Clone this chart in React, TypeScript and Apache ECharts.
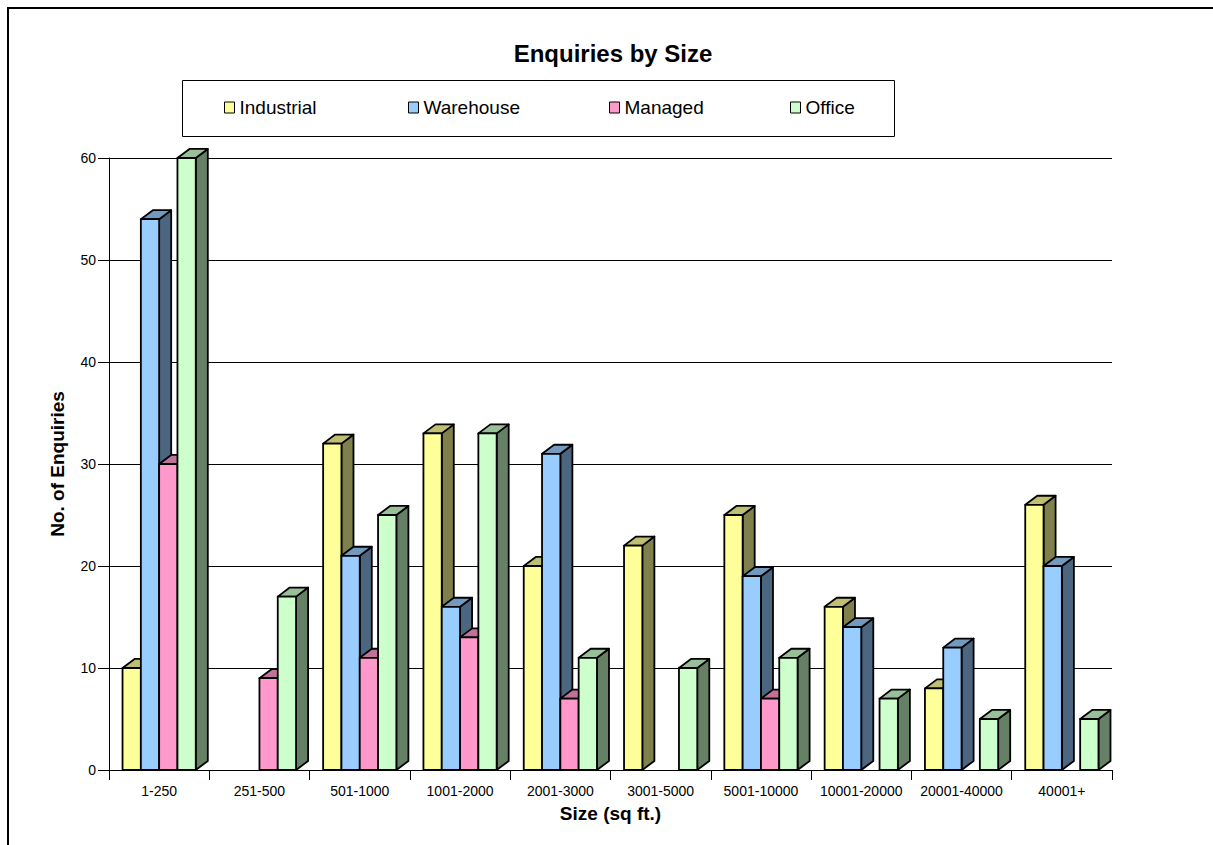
import React, { useEffect, useRef } from "react";
import * as echarts from "echarts";

// Size bands (sq ft.)
const categories = [
  "1-250",
  "251-500",
  "501-1000",
  "1001-2000",
  "2001-3000",
  "3001-5000",
  "5001-10000",
  "10001-20000",
  "20001-40000",
  "40001+",
];

// Enquiry counts per size band
const industrial = [10, 0, 32, 33, 20, 22, 25, 16, 8, 26];
const warehouse = [54, 0, 21, 16, 31, 0, 19, 14, 12, 20];
const managed = [30, 9, 11, 13, 7, 0, 7, 0, 0, 0];
const office = [60, 17, 25, 33, 11, 10, 11, 7, 5, 5];

const yTicks = { min: 0, max: 60, interval: 10 };

const seriesDefs = [
  { name: "Industrial", values: industrial, front: "#FFFF99", top: "#BFBF73", side: "#80804D" },
  { name: "Warehouse", values: warehouse, front: "#99CCFF", top: "#7399BF", side: "#4D6680" },
  { name: "Managed", values: managed, front: "#FF99CC", top: "#BF7399", side: "#804D66" },
  { name: "Office", values: office, front: "#CCFFCC", top: "#99BF99", side: "#668066" },
];

const legendLeft = [224, 408, 609, 790];

const FONT = "Arial, 'Liberation Sans', sans-serif";

export default function App() {
  const ref = useRef<HTMLDivElement>(null);

  useEffect(() => {
    document.body.style.margin = "0";
    document.body.style.overflow = "hidden";
    document.documentElement.style.overflow = "hidden";
    if (!ref.current) return;
    const chart = echarts.init(ref.current, null, { renderer: "svg" });

    // 3D-style bar: dark side face, lighter top face, then the front face
    const makeRender = (def: (typeof seriesDefs)[number]) =>
      (params: any, api: any) => {
        const ci = api.value(0);
        const v = api.value(1);
        const topPt = api.coord([ci, v]);
        const basePt = api.coord([ci, 0]);
        const cw = api.size([1, 0])[0];
        const bw = cw * 0.1825;
        const dx = cw * 0.12;
        const dy = -cw * 0.09;
        const x0 = topPt[0] - 2 * bw + params.seriesIndex * bw;
        const x1 = x0 + bw;
        const yT = topPt[1];
        const yB = basePt[1];
        const edge = { stroke: "#000", lineWidth: 1.8, lineJoin: "round" };
        return {
          type: "group",
          children: [
            {
              type: "polygon",
              shape: { points: [[x1, yT], [x1 + dx, yT + dy], [x1 + dx, yB + dy], [x1, yB]] },
              style: { fill: def.side, ...edge },
            },
            {
              type: "polygon",
              shape: { points: [[x0, yT], [x0 + dx, yT + dy], [x1 + dx, yT + dy], [x1, yT]] },
              style: { fill: def.top, ...edge },
            },
            {
              type: "polygon",
              shape: { points: [[x0, yT], [x1, yT], [x1, yB], [x0, yB]] },
              style: { fill: def.front, ...edge },
            },
          ],
        };
      };

    const option: any = {
      animation: false,
      backgroundColor: "#fff",
      title: {
        text: "Enquiries by Size",
        left: 613,
        top: 41,
        padding: 0,
        textAlign: "center",
        textStyle: { fontFamily: FONT, fontSize: 24, fontWeight: "bold", color: "#000" },
      },
      legend: seriesDefs.map((d, i) => ({
        data: [d.name],
        left: legendLeft[i],
        top: 98,
        padding: 0,
        icon: "rect",
        itemWidth: 10,
        itemHeight: 11,
        itemStyle: { borderColor: "#000", borderWidth: 1 },
        textStyle: { fontFamily: FONT, fontSize: 19, color: "#000" },
        selectedMode: false,
      })),
      graphic: [
        {
          type: "line",
          shape: { x1: 7, y1: 8, x2: 1213, y2: 8 },
          style: { stroke: "#000", lineWidth: 2 },
          silent: true,
          z: 100,
        },
        {
          type: "line",
          shape: { x1: 8, y1: 7, x2: 8, y2: 845 },
          style: { stroke: "#000", lineWidth: 2 },
          silent: true,
          z: 100,
        },
        {
          type: "rect",
          shape: { x: 182.5, y: 80.5, width: 712, height: 56 },
          style: { fill: "none", stroke: "#000", lineWidth: 1 },
          silent: true,
        },
      ],
      grid: { left: 109, right: 101, top: 158, bottom: 75, containLabel: false },
      xAxis: {
        type: "category",
        data: categories,
        boundaryGap: true,
        name: "Size (sq ft.)",
        nameLocation: "middle",
        nameGap: 34,
        nameTextStyle: { fontFamily: FONT, fontSize: 19, fontWeight: "bold", color: "#000" },
        axisLine: { show: true, lineStyle: { color: "#000", width: 1 } },
        axisTick: { show: true, length: 10, lineStyle: { color: "#000" }, alignWithLabel: false },
        axisLabel: { fontFamily: FONT, fontSize: 14, color: "#000", margin: 14, interval: 0 },
      },
      yAxis: {
        type: "value",
        min: yTicks.min,
        max: yTicks.max,
        interval: yTicks.interval,
        name: "No. of Enquiries",
        nameLocation: "middle",
        nameGap: 42,
        nameRotate: 90,
        nameTextStyle: { fontFamily: FONT, fontSize: 19, fontWeight: "bold", color: "#000" },
        axisLine: { show: true, lineStyle: { color: "#000", width: 1 } },
        axisTick: { show: true, length: 11, lineStyle: { color: "#000" } },
        axisLabel: { fontFamily: FONT, fontSize: 14, color: "#000", margin: 13 },
        splitLine: { show: true, lineStyle: { color: "#000", width: 1 } },
      },
      series: seriesDefs.map((d) => ({
        type: "custom",
        name: d.name,
        itemStyle: { color: d.front },
        renderItem: makeRender(d),
        encode: { x: 0, y: 1 },
        data: d.values
          .map((v, i) => [i, v])
          .filter((p) => p[1] > 0),
      })),
    };

    chart.setOption(option);
    return () => chart.dispose();
  }, []);

  return <div ref={ref} style={{ width: 1213, height: 845, background: "#fff" }} />;
}
